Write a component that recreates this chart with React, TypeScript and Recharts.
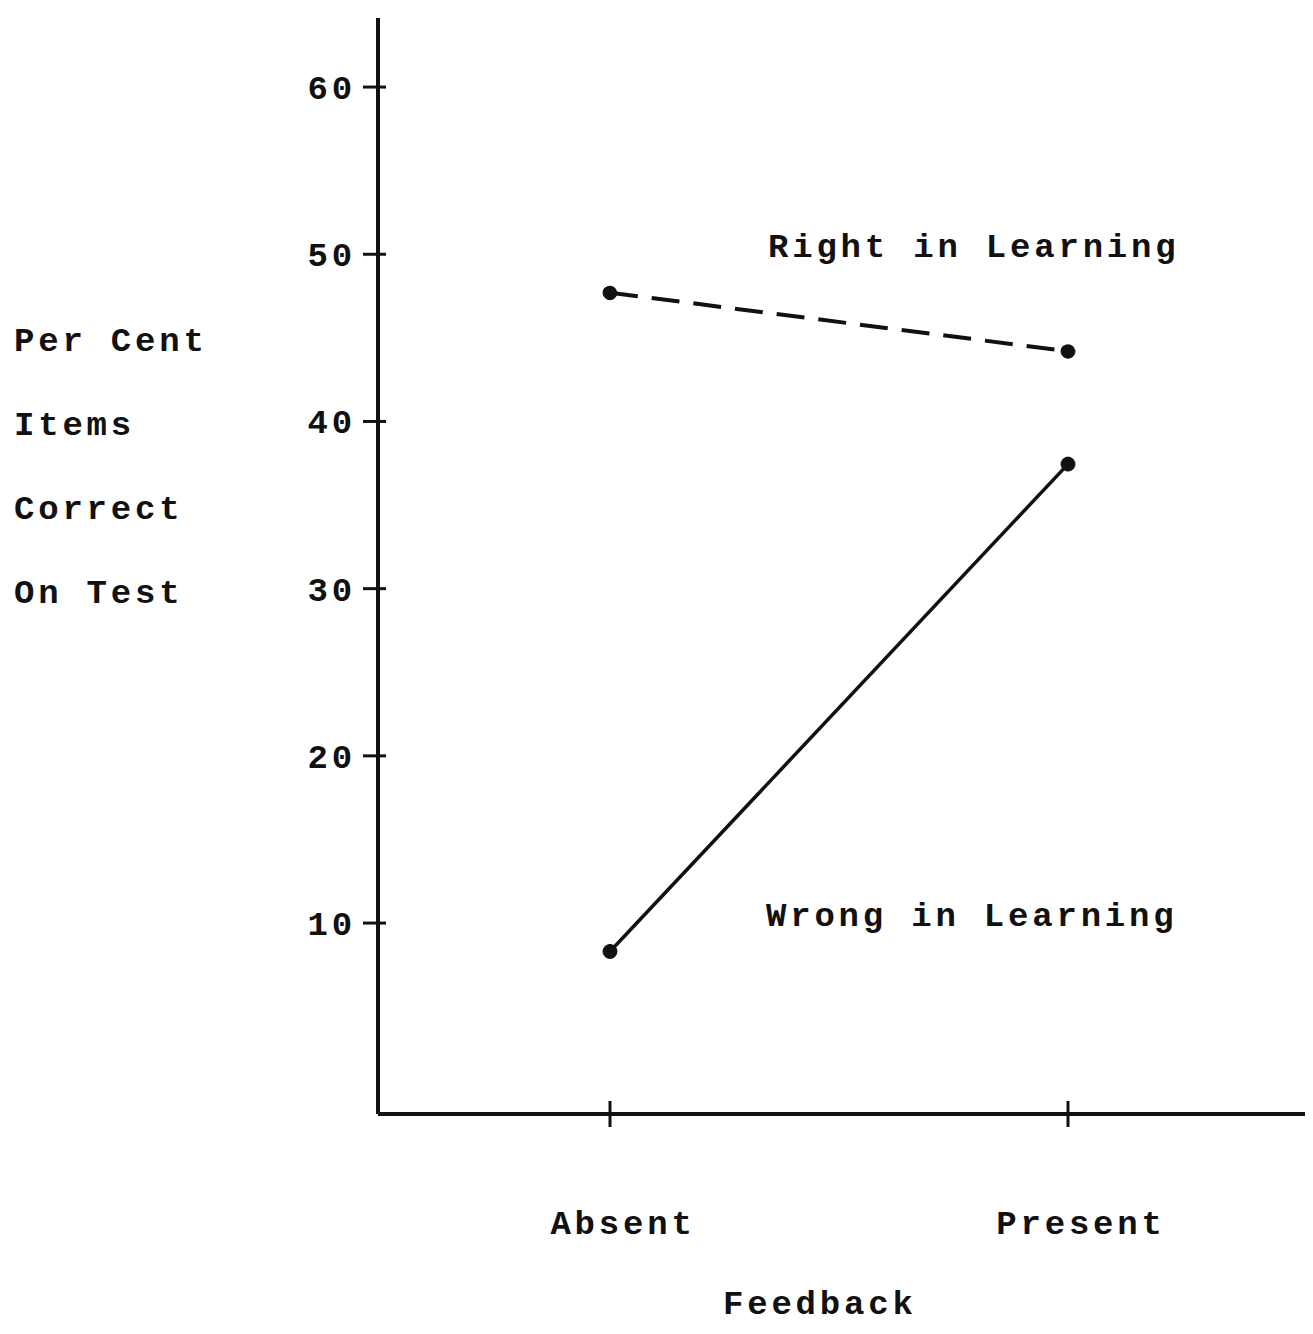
import { LineChart, Line, XAxis, YAxis } from 'recharts';

const feedback = ['Absent', 'Present'];
const rightInLearning = [47.7, 44.2];
const wrongInLearning = [8.3, 37.45];
const yTicks = [10, 20, 30, 40, 50, 60];
const yTitleLines = ['Per Cent', 'Items', 'Correct', 'On Test'];

const data = feedback.map((f, i) => ({
    feedback: f,
    right: rightInLearning[i],
    wrong: wrongInLearning[i],
}));

const INK = '#111';
const FONT = '"Liberation Mono", "DejaVu Sans Mono", monospace';
const FONT_SIZE = 34;
const SPACING = 3.8;
const textStyle = {
    fontFamily: FONT,
    fontWeight: 'bold' as const,
    fontSize: FONT_SIZE,
    letterSpacing: SPACING,
    fill: INK,
};

function YTick({ x, y, payload }: { x: number; y: number; payload: { value: number } }) {
    return (
        <g>
            <line x1={x - 15} x2={x + 8} y1={y} y2={y} stroke={INK} strokeWidth={3} />
            <text x={x - 22} y={y} dy={12} textAnchor="end" style={textStyle}>
                {payload.value}
            </text>
        </g>
    );
}

function XTick({ x, y, payload }: { x: number; y: number; payload: { value: string } }) {
    return (
        <g>
            <line x1={x} x2={x} y1={y - 13} y2={y + 13} stroke={INK} strokeWidth={3} />
            <text x={x + 13} y={y + 120} textAnchor="middle" style={textStyle}>
                {payload.value}
            </text>
        </g>
    );
}

const overlay = (left: number, centerY: number, text: string) => (
    <div
        key={text}
        style={{
            position: 'absolute',
            left,
            top: centerY - FONT_SIZE / 2,
            fontFamily: FONT,
            fontWeight: 'bold',
            fontSize: FONT_SIZE,
            lineHeight: `${FONT_SIZE}px`,
            letterSpacing: SPACING,
            color: INK,
            whiteSpace: 'pre',
        }}
    >
        {text}
    </div>
);

export default function App() {
    return (
        <div style={{ position: 'absolute', left: 0, top: 0, width: 1313, height: 1334, background: '#fff' }}>
            <LineChart
                width={1313}
                height={1334}
                data={data}
                margin={{ top: 18, right: 8, bottom: 0, left: 0 }}
            >
                <XAxis
                    dataKey="feedback"
                    height={220}
                    padding={{ left: 232, right: 237 }}
                    axisLine={{ stroke: INK, strokeWidth: 4 }}
                    tickLine={false}
                    tickSize={0}
                    tickMargin={0}
                    tick={XTick}
                />
                <YAxis
                    type="number"
                    width={378}
                    domain={[-1.42, 64.13]}
                    allowDataOverflow
                    ticks={yTicks}
                    axisLine={{ stroke: INK, strokeWidth: 4 }}
                    tickLine={false}
                    tickSize={0}
                    tickMargin={0}
                    tick={YTick}
                />
                <Line
                    dataKey="right"
                    stroke={INK}
                    strokeWidth={4}
                    strokeDasharray="28 14"
                    dot={{ r: 7, fill: INK, stroke: INK, strokeWidth: 1 }}
                    activeDot={false}
                    isAnimationActive={false}
                />
                <Line
                    dataKey="wrong"
                    stroke={INK}
                    strokeWidth={3.5}
                    dot={{ r: 7, fill: INK, stroke: INK, strokeWidth: 1 }}
                    activeDot={false}
                    isAnimationActive={false}
                />
            </LineChart>
            {yTitleLines.map((line, i) => overlay(14, 342 + i * 84, line))}
            {overlay(768, 248, 'Right in Learning')}
            {overlay(766, 917, 'Wrong in Learning')}
            {overlay(723, 1305, 'Feedback')}
        </div>
    );
}
